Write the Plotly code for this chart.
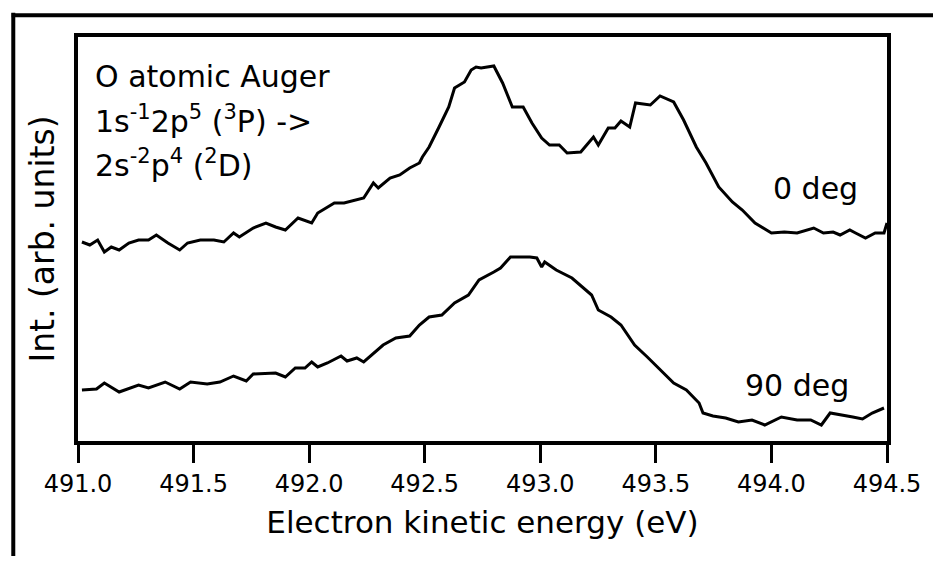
import plotly.graph_objects as go

# ---- data ----
energy_0deg = [491.017, 491.051, 491.085, 491.114, 491.144, 491.178, 491.220, 491.262, 491.305, 491.339,
               491.389, 491.440, 491.474, 491.529, 491.588, 491.631, 491.673, 491.698, 491.758, 491.813,
               491.855, 491.897, 491.952, 492.011, 492.037, 492.109, 492.151, 492.206, 492.236, 492.278,
               492.299, 492.350, 492.392, 492.435, 492.477, 492.490, 492.519, 492.562, 492.604, 492.629,
               492.672, 492.701, 492.722, 492.744, 492.799, 492.837, 492.879, 492.926, 492.964, 493.006,
               493.040, 493.082, 493.116, 493.175, 493.230, 493.251, 493.294, 493.323, 493.349, 493.387,
               493.412, 493.476, 493.518, 493.577, 493.620, 493.675, 493.717, 493.772, 493.831, 493.874,
               493.929, 494.000, 494.056, 494.111, 494.183, 494.225, 494.267, 494.297, 494.339, 494.364,
               494.407, 494.449, 494.487, 494.500]
int_0deg = [199, 196, 201, 189, 194, 191, 198, 201, 201, 206,
            198, 191, 198, 201, 201, 199, 208, 204, 213, 218,
            214, 211, 223, 218, 228, 238, 238, 241, 243, 258,
            253, 263, 266, 273, 278, 284, 294, 314, 334, 353,
            359, 371, 374, 373, 375, 358, 334, 334, 318, 303,
            296, 296, 288, 289, 304, 296, 313, 313, 320, 314,
            338, 336, 345, 339, 321, 294, 278, 254, 239, 231,
            218, 208, 209, 208, 213, 208, 209, 206, 211, 208,
            203, 208, 208, 218]

energy_90deg = [491.017, 491.080, 491.114, 491.178, 491.262, 491.305, 491.377, 491.440, 491.487, 491.559,
                491.614, 491.673, 491.728, 491.758, 491.855, 491.897, 491.940, 491.982, 492.011, 492.037,
                492.079, 492.138, 492.164, 492.206, 492.236, 492.278, 492.320, 492.375, 492.435, 492.477,
                492.519, 492.574, 492.629, 492.689, 492.735,
                492.799, 492.828, 492.871, 492.955, 492.985, 493.006, 493.019, 493.069, 493.137, 493.196,
                493.222, 493.251, 493.306, 493.349, 493.408, 493.463, 493.518, 493.577, 493.632, 493.687,
                493.704, 493.747, 493.802, 493.857, 493.916, 493.971, 494.043, 494.111, 494.170, 494.216,
                494.254, 494.309, 494.352, 494.394, 494.436, 494.487]
int_90deg = [51, 52, 58, 49, 56, 53, 59, 52, 59, 57,
             59, 65, 60, 67, 68, 64, 73, 73, 79, 74,
             78, 85, 80, 83, 79, 88, 96, 103, 105, 116,
             124, 126, 138, 146, 161,
             169, 173, 184, 184, 183, 174, 179, 171, 163, 151,
             146, 131, 124, 116, 96, 84, 71, 58, 51, 38,
             28, 25, 23, 19, 21, 16, 24, 21, 21, 16,
             28, 26, 24, 22, 28, 33]

x_ticks = [491.0, 491.5, 492.0, 492.5, 493.0, 493.5, 494.0, 494.5]
x_tick_labels = ["491.0", "491.5", "492.0", "492.5", "493.0", "493.5", "494.0", "494.5"]

FONT = "DejaVu Sans, Liberation Sans, Arial, sans-serif"

fig = go.Figure()
fig.add_trace(go.Scatter(x=energy_0deg, y=int_0deg, mode="lines",
                         line=dict(color="black", width=3), name="0 deg"))
fig.add_trace(go.Scatter(x=energy_90deg, y=int_90deg, mode="lines",
                         line=dict(color="black", width=3), name="90 deg"))

# the page body has an 8px margin on every side: keep the figure small
# enough that the page never scrolls
fig.update_layout(
    width=925, height=548,
    margin=dict(l=70, r=31, t=29, b=115),
    paper_bgcolor="white", plot_bgcolor="white",
    showlegend=False,
    font=dict(family=FONT, color="black"),
    xaxis=dict(range=[491.0, 494.5], tickvals=x_ticks, ticktext=x_tick_labels,
               showline=True, linewidth=4, linecolor="black", mirror=True,
               ticks="outside", ticklen=18, tickwidth=3, tickcolor="black",
               showgrid=False, zeroline=False, ticklabeloverflow="allow",
               tickfont=dict(size=24, family=FONT),
               title=dict(text="Electron kinetic energy (eV)", font=dict(size=31, family=FONT), standoff=16)),
    yaxis=dict(range=[0, 404], showline=True, linewidth=4, linecolor="black", mirror=True,
               showticklabels=False, ticks="", showgrid=False, zeroline=False,
               title=dict(text="Int. (arb. units)", font=dict(size=33, family=FONT), standoff=10)),
)

# outer frame of the figure: only its top and left edges are in view
frame = dict(color="black", width=4)
fig.add_shape(type="line", xref="paper", yref="paper",
              x0=-0.082, x1=1.3, y0=1.054, y1=1.054, line=frame, layer="above")
fig.add_shape(type="line", xref="paper", yref="paper",
              x0=-0.080, x1=-0.080, y0=1.06, y1=-0.8, line=frame, layer="above")

ann_font = dict(size=30, family=FONT, color="black")
fig.add_annotation(xref="paper", yref="paper", x=0.018, y=0.901, xanchor="left", yanchor="middle",
                   text="O atomic Auger", showarrow=False, font=ann_font)
fig.add_annotation(xref="paper", yref="paper", x=0.018, y=0.795, xanchor="left", yanchor="middle",
                   text="1s<sup>-1</sup>2p<sup>5</sup> (<sup>3</sup>P) -&gt;", showarrow=False, font=ann_font)
fig.add_annotation(xref="paper", yref="paper", x=0.018, y=0.688, xanchor="left", yanchor="middle",
                   text="2s<sup>-2</sup>p<sup>4</sup> (<sup>2</sup>D)", showarrow=False, font=ann_font)
fig.add_annotation(xref="paper", yref="paper", x=0.857, y=0.626, xanchor="left", yanchor="middle",
                   text="0 deg", showarrow=False, font=ann_font)
fig.add_annotation(xref="paper", yref="paper", x=0.822, y=0.138, xanchor="left", yanchor="middle",
                   text="90 deg", showarrow=False, font=ann_font)

fig.write_html("out.html")
